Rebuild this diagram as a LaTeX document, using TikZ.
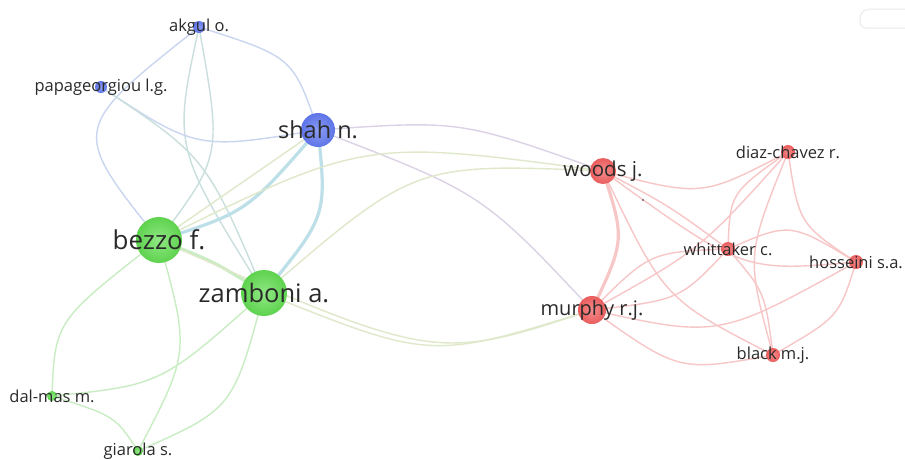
\documentclass[tikz,border=0pt]{standalone}
\usepackage{fontspec}
\setmainfont{Open Sans}
\usetikzlibrary{backgrounds}
\definecolor{nblue}{HTML}{5E74E8}
\definecolor{nbluein}{HTML}{8A9CF2}
\definecolor{ngreen}{HTML}{5ED24E}
\definecolor{ngreenin}{HTML}{90E884}
\definecolor{nred}{HTML}{EA5C5C}
\definecolor{nredin}{HTML}{F48C8C}
\definecolor{eblue}{HTML}{CAD6F0}
\definecolor{eteal}{HTML}{BCDFE8}
\definecolor{egreen}{HTML}{C8EDC2}
\definecolor{eyel}{HTML}{DFE8CA}
\definecolor{epurp}{HTML}{DCD2E6}
\definecolor{ered}{HTML}{F7C6C6}
\definecolor{txt}{HTML}{2A2A2A}
\tikzset{
  vnode/.style={circle, inner sep=0pt, draw=none},
  bnode/.style={vnode, inner color=nbluein, outer color=nblue},
  gnode/.style={vnode, inner color=ngreenin, outer color=ngreen},
  rnode/.style={vnode, inner color=nredin, outer color=nred},
  lab/.style={text=txt, inner sep=0pt, anchor=center},
  edge/.style={line width=1.4pt, line cap=round},
  thick edge/.style={line width=3.2pt, line cap=round},
}
\newcommand{\fs}[1]{\fontsize{#1}{#1}\selectfont}
\begin{document}
\begin{tikzpicture}[x=1pt,y=-1pt]
\useasboundingbox (0,0) rectangle (905,459);
% nodes
\node[bnode, minimum size=12pt] (akgul) at (199,27) {};
\node[bnode, minimum size=12pt] (papa) at (101,87) {};
\node[bnode, minimum size=34pt] (shah) at (318,130) {};
\node[gnode, minimum size=46pt] (bezzo) at (159,240) {};
\node[gnode, minimum size=46pt] (zamboni) at (264,293) {};
\node[gnode, minimum size=10pt] (dalmas) at (52,396) {};
\node[gnode, minimum size=10pt] (giarola) at (138,451) {};
\node[rnode, minimum size=26pt] (woods) at (603,171) {};
\node[rnode, minimum size=28pt] (murphy) at (592,310) {};
\node[rnode, minimum size=14pt] (whitt) at (728,249) {};
\node[rnode, minimum size=14pt] (diaz) at (788,152) {};
\node[rnode, minimum size=14pt] (hoss) at (856,262) {};
\node[rnode, minimum size=14pt] (black) at (773,355) {};
\begin{pgfonlayer}{background}
\fill[white] (0,0) rectangle (905,459);
% faint control in the top right corner
\draw[black!8, line width=1pt, rounded corners=5pt] (910,9) -- (866,9) -- (860,14) -- (860,28) -- (910,28);
% blue cluster
\draw[edge, eblue] (akgul.center) .. controls (293,57) .. (shah.center);
\draw[edge, eblue] (akgul.center) .. controls (70,129) .. (bezzo.center);
\draw[edge, eblue!60!egreen] (akgul.center) .. controls (222,156) .. (bezzo.center);
\draw[edge, eblue!60!egreen] (akgul.center) .. controls (173,147) .. (zamboni.center);
\draw[edge, eblue] (papa.center) .. controls (197,150) .. (shah.center);
\draw[edge, eblue!60!egreen] (papa.center) .. controls (206,157) .. (zamboni.center);
\draw[thick edge, eteal] (shah.center) .. controls (247,212) .. (bezzo.center);
\draw[edge, eyel] (shah.center) -- (bezzo.center);
\draw[thick edge, eteal] (shah.center) .. controls (327,216) .. (zamboni.center);
\draw[edge, epurp] (shah.center) .. controls (460,120) .. (woods.center);
\draw[edge, epurp] (shah.center) .. controls (482,193) .. (murphy.center);
% green cluster
\draw[thick edge, egreen] (bezzo.center) .. controls (215,262) .. (zamboni.center);
\draw[edge, egreen] (bezzo.center) .. controls (55,321) .. (dalmas.center);
\draw[edge, egreen] (bezzo.center) .. controls (190,352) .. (giarola.center);
\draw[edge, egreen] (zamboni.center) .. controls (161,385) .. (dalmas.center);
\draw[edge, egreen] (zamboni.center) .. controls (233,409) .. (giarola.center);
\draw[edge, egreen] (dalmas.center) .. controls (115,416) .. (giarola.center);
\draw[edge, eyel] (bezzo.center) .. controls (365,139) .. (woods.center);
\draw[edge, eyel] (zamboni.center) .. controls (415,163) .. (woods.center);
\draw[edge, eyel] (zamboni.center) .. controls (431,360) .. (murphy.center);
\draw[edge, eyel] (bezzo.center) .. controls (435,362) .. (murphy.center);
% red cluster
\draw[thick edge, ered] (woods.center) .. controls (625,240) .. (murphy.center);
\draw[edge, ered] (woods.center) .. controls (702,197) .. (diaz.center);
\draw[edge, ered] (woods.center) .. controls (668,205) .. (whitt.center);
\draw[edge, ered] (woods.center) .. controls (664,299) .. (black.center);
\draw[edge, ered] (woods.center) .. controls (743,272) .. (hoss.center);
\draw[edge, ered] (murphy.center) .. controls (650,252) .. (whitt.center);
\draw[edge, ered] (murphy.center) .. controls (680,300) .. (whitt.center);
\draw[edge, ered] (murphy.center) .. controls (700,250) .. (diaz.center);
\draw[edge, ered] (murphy.center) .. controls (719,338) .. (hoss.center);
\draw[edge, ered] (murphy.center) .. controls (679,372) .. (black.center);
\draw[edge, ered] (whitt.center) .. controls (730,193) .. (diaz.center);
\draw[edge, ered] (whitt.center) .. controls (790,222) .. (hoss.center);
\draw[edge, ered] (whitt.center) .. controls (765,292) .. (black.center);
\draw[edge, ered] (diaz.center) .. controls (799,224) .. (hoss.center);
\draw[edge, ered] (diaz.center) .. controls (746,256) .. (black.center);
\draw[edge, ered] (hoss.center) .. controls (839,317) .. (black.center);
\end{pgfonlayer}
% tiny dot
\fill[txt] (643,200) circle (0.8pt);
% labels
\node[lab, font=\fs{16.5}] at (akgul) {akgul o.};
\node[lab, font=\fs{16.5}] at (papa) {papageorgiou l.g.};
\node[lab, font=\fs{23.5}] at (shah) {shah n.};
\node[lab, font=\fs{26}] at (bezzo) {bezzo f.};
\node[lab, font=\fs{25.5}] at (zamboni) {zamboni a.};
\node[lab, font=\fs{16.5}] at (dalmas) {dal-mas m.};
\node[lab, font=\fs{16.5}] at (giarola) {giarola s.};
\node[lab, font=\fs{20.5}] at (woods) {woods j.};
\node[lab, font=\fs{20}] at (murphy) {murphy r.j.};
\node[lab, font=\fs{16.5}] at (whitt) {whittaker c.};
\node[lab, font=\fs{16.5}] at (diaz) {diaz-chavez r.};
\node[lab, font=\fs{16.5}] at (hoss) {hosseini s.a.};
\node[lab, font=\fs{16.5}] at (black) {black m.j.};
\end{tikzpicture}
\end{document}
